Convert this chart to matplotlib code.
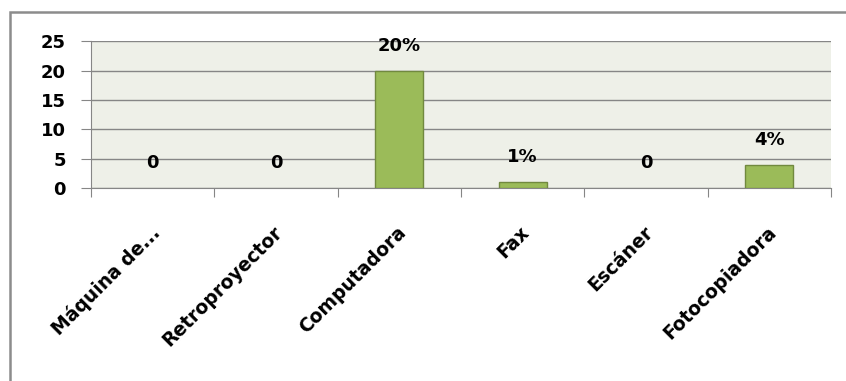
import matplotlib
matplotlib.use("Agg")
import matplotlib.pyplot as plt
import matplotlib.transforms as mtransforms
from matplotlib.patches import Rectangle

categorias = ["Máquina de...", "Retroproyector", "Computadora", "Fax", "Escáner", "Fotocopiadora"]
valores = [0, 0, 20, 1, 0, 4]
etiquetas = ["0", "0", "20%", "1%", "0", "4%"]
y_ticks = [0, 5, 10, 15, 20, 25]

plt.rcParams['font.family'] = ['DejaVu Sans']
plt.rcParams['font.weight'] = 'bold'

W, H = 846, 381
fig = plt.figure(figsize=(W / 100, H / 100), dpi=100)
fig.patch.set_facecolor('white')

# marco gris del grafico
fig.patches.append(Rectangle((10 / W, -0.1), 1.2, (H - 12) / H + 0.1,
                             transform=fig.transFigure, fill=False,
                             edgecolor='#8c8c8c', linewidth=1.8))

ax = fig.add_axes([91 / W, 1 - 188 / H, (831 - 91) / W, (188 - 41.5) / H])
ax.set_facecolor('#eef0e8')

x = list(range(len(categorias)))
bordes = ['#71893f' if v > 0 else 'none' for v in valores]
ax.bar(x, valores, width=0.39, color='#9bbb59', edgecolor=bordes, linewidth=1, zorder=3)

for xi, v, t in zip(x, valores, etiquetas):
    ax.annotate(t, (xi, v), xytext=(0, 18), textcoords='offset points',
                ha='center', va='center', fontsize=13, fontweight='bold', zorder=4)

ax.set_xlim(-0.5, len(categorias) - 0.5)
ax.set_ylim(0, 25)
ax.set_yticks(y_ticks)
ax.yaxis.grid(True, color='#868686', linewidth=1, zorder=1)
ax.set_axisbelow(True)
ax.tick_params(axis='y', length=7, color='#868686', labelsize=13, pad=11)

# marcas de categoria entre barras
ax.set_xticks([i - 0.5 for i in range(len(categorias) + 1)])
ax.set_xticklabels([])
ax.tick_params(axis='x', length=6.5, color='#868686')
ax.set_xticks(x, minor=True)
ax.set_xticklabels(categorias, minor=True, rotation=45, ha='right', va='top',
                   rotation_mode='anchor', fontsize=13.5, fontweight='bold')
ax.tick_params(axis='x', which='minor', length=0, pad=25)
desplaza = mtransforms.ScaledTranslation(-3 / 100, 0, fig.dpi_scale_trans)
for lbl in ax.get_xticklabels(minor=True):
    lbl.set_transform(lbl.get_transform() + desplaza)

for s in ['top', 'right']:
    ax.spines[s].set_visible(False)
ax.spines['left'].set_color('#868686')
ax.spines['bottom'].set_color('#868686')

fig.savefig('out.png', dpi=100)
